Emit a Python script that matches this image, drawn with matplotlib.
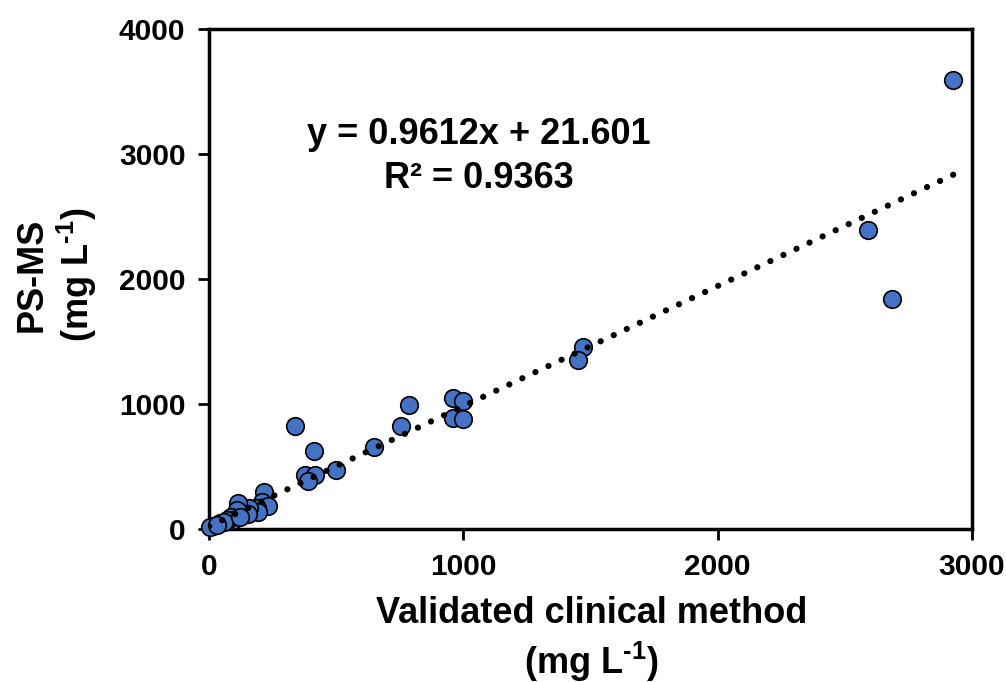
import matplotlib
matplotlib.use("Agg")
import matplotlib.pyplot as plt
import numpy as np

plt.rcParams['font.family'] = ['Liberation Sans', 'DejaVu Sans']
plt.rcParams['font.weight'] = 'bold'
plt.rcParams['mathtext.fontset'] = 'custom'
plt.rcParams['mathtext.rm'] = 'Liberation Sans:bold'
plt.rcParams['mathtext.bf'] = 'Liberation Sans:bold'
plt.rcParams['mathtext.default'] = 'bf'

clinical = [2926, 2591, 2686, 1471, 1451, 786, 960, 998, 960, 998, 755, 649, 499,
            338, 413, 377, 417, 389,
            216, 207, 232, 188, 193, 157, 152, 113, 109, 85, 94, 70, 43, 16, 4, 60, 30, 120]
psms = [3592, 2392, 1840, 1456, 1352, 992, 1048, 1024, 888, 880, 824, 656, 472,
        824, 624, 432, 432, 384,
        298, 218, 184, 170, 138, 168, 120, 208, 152, 98, 72, 72, 48, 24, 18, 60, 30, 100]
slope = 0.9612
intercept = 21.601
r2 = 0.9363
xticks = [0, 1000, 2000, 3000]
yticks = [0, 1000, 2000, 3000, 4000]

fig = plt.figure(figsize=(10.06, 6.82), dpi=100)
ax = fig.add_axes([0.2078, 0.2243, 0.7584, 0.7332])

ax.scatter(clinical, psms, s=160, c='#4472C4', edgecolors='black', linewidths=1.2,
           zorder=3, clip_on=False)
xl = np.array([0, 2935])
ax.plot(xl, slope * xl + intercept, color='black', lw=4.5,
        linestyle=(0, (0.01, 2.3)), dash_capstyle='round', zorder=4)

ax.set_xlim(0, 3000)
ax.set_ylim(0, 4000)
ax.set_xticks(xticks)
ax.set_yticks(yticks)
ax.tick_params(direction='out', length=8, width=2, labelsize=21.5, pad=9)
for lab in ax.get_xticklabels() + ax.get_yticklabels():
    lab.set_fontweight('bold')
for sp in ax.spines.values():
    sp.set_linewidth(2.5)

ax.text(0.353, 0.745, f"y = {slope}x + {intercept}\nR² = {r2}", transform=ax.transAxes,
        ha='center', va='center', fontsize=26, fontweight='bold', linespacing=1.3)

fig.text(0.588, 0.062, "Validated clinical method\n(mg L$^{\\text{-1}}$)", ha='center', va='center',
         fontsize=26, fontweight='bold', linespacing=1.25)
fig.text(0.056, 0.597, "PS-MS\n(mg L$^{\\text{-1}}$)", ha='center', va='center', rotation=90,
         fontsize=26, fontweight='bold', linespacing=1.15)

fig.savefig("out.png", dpi=100)
